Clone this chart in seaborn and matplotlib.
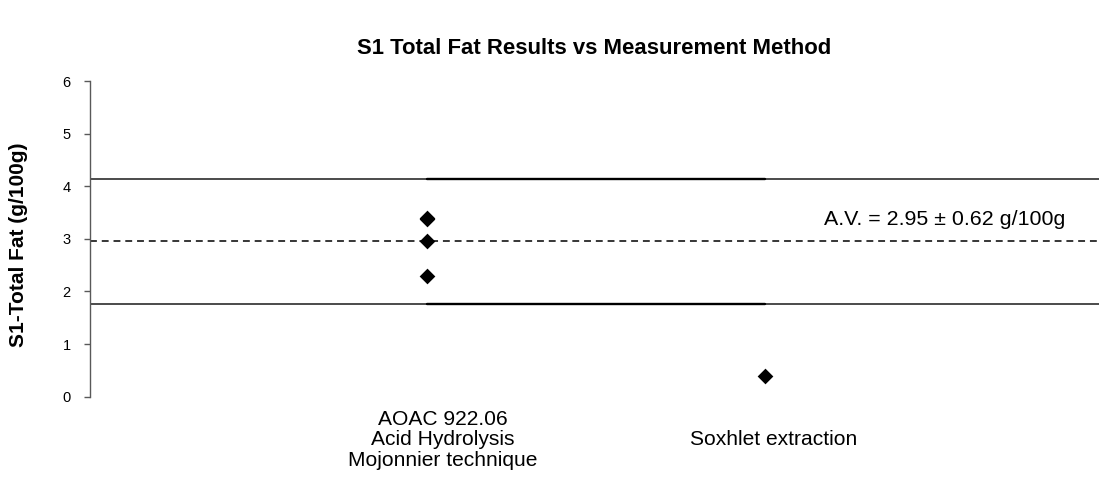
import matplotlib
matplotlib.use("Agg")
import matplotlib.pyplot as plt
from matplotlib.transforms import ScaledTranslation
import seaborn as sns
import pandas as pd

# Measurement methods (category axis)
methods = [
    "AOAC 922.06\nAcid Hydrolysis\nMojonnier technique",
    "Soxhlet extraction",
]

# Individual lab results, g/100g
point_method = [methods[0], methods[0], methods[0], methods[0], methods[1]]
point_value = [3.40, 3.38, 2.95, 2.29, 0.40]

# Assigned value and acceptance limits
assigned_value = 2.95
uncertainty = 0.62
upper_limit = 4.13
lower_limit = 1.77

y_ticks = [0, 1, 2, 3, 4, 5, 6]

title = "S1 Total Fat Results vs Measurement Method"
y_label = "S1-Total Fat (g/100g)"

sns.set_theme(style="white")
plt.rcParams["font.family"] = ["Liberation Sans", "DejaVu Sans"]

W, H = 1099, 487
fig = plt.figure(figsize=(W / 100, H / 100), dpi=100)
ax = fig.add_axes([90 / W, (H - 396.7) / H, 1 - 90 / W, 315.7 / H])

df = pd.DataFrame({"Method": point_method, "Fat": point_value})
sns.stripplot(data=df, x="Method", y="Fat", order=methods, jitter=False,
              marker="D", size=8, color="black", linewidth=0, ax=ax, zorder=5)

# acceptance limits: thin full-width rule plus heavier segment between methods
for lim in (upper_limit, lower_limit):
    ax.axhline(lim, color="#1a1a1a", lw=1.1, zorder=2)
    ax.plot(methods, [lim, lim], color="black", lw=1.7, zorder=3)

ax.axhline(assigned_value, color="black", lw=1.1, ls=(0, (4.5, 3.2)), zorder=2)
ax.text(1.175, assigned_value + 0.42,
        f"A.V. = {assigned_value:.2f} \u00b1 {uncertainty:.2f} g/100g",
        ha="left", va="center", fontsize=15.4, color="black")

ax.set_xlim(-1, 1.99)
ax.set_ylim(0, 6)
ax.set_yticks(y_ticks)
ax.set_xticks(range(len(methods)))
ax.set_xticklabels(methods, fontsize=15.1, va="center", linespacing=1.1,
                   multialignment="center")
ax.tick_params(axis="x", length=0, pad=31, colors="black")
ax.tick_params(axis="y", left=True, length=4, width=1, color="#595959",
               labelsize=10.5, labelcolor="black", pad=10)
ax.set_xlabel("")

# category labels sit a little right of their markers
for lab, dx in zip(ax.get_xticklabels(), (15, 9)):
    lab.set_transform(lab.get_transform()
                      + ScaledTranslation(dx / 100, 0, fig.dpi_scale_trans))

sns.despine(ax=ax, top=True, right=True, bottom=True)
ax.spines["left"].set_color("#595959")
ax.spines["left"].set_linewidth(1)

ax.set_ylabel(y_label, fontsize=15, fontweight="bold", va="center", color="black")
ax.yaxis.set_label_coords(-71 / 1009, 0.48)

ax.set_title(title, fontsize=15.9, fontweight="bold", y=1 + 33 / 315.7,
             va="center", pad=0, color="black")

fig.savefig("out.png", dpi=100)
